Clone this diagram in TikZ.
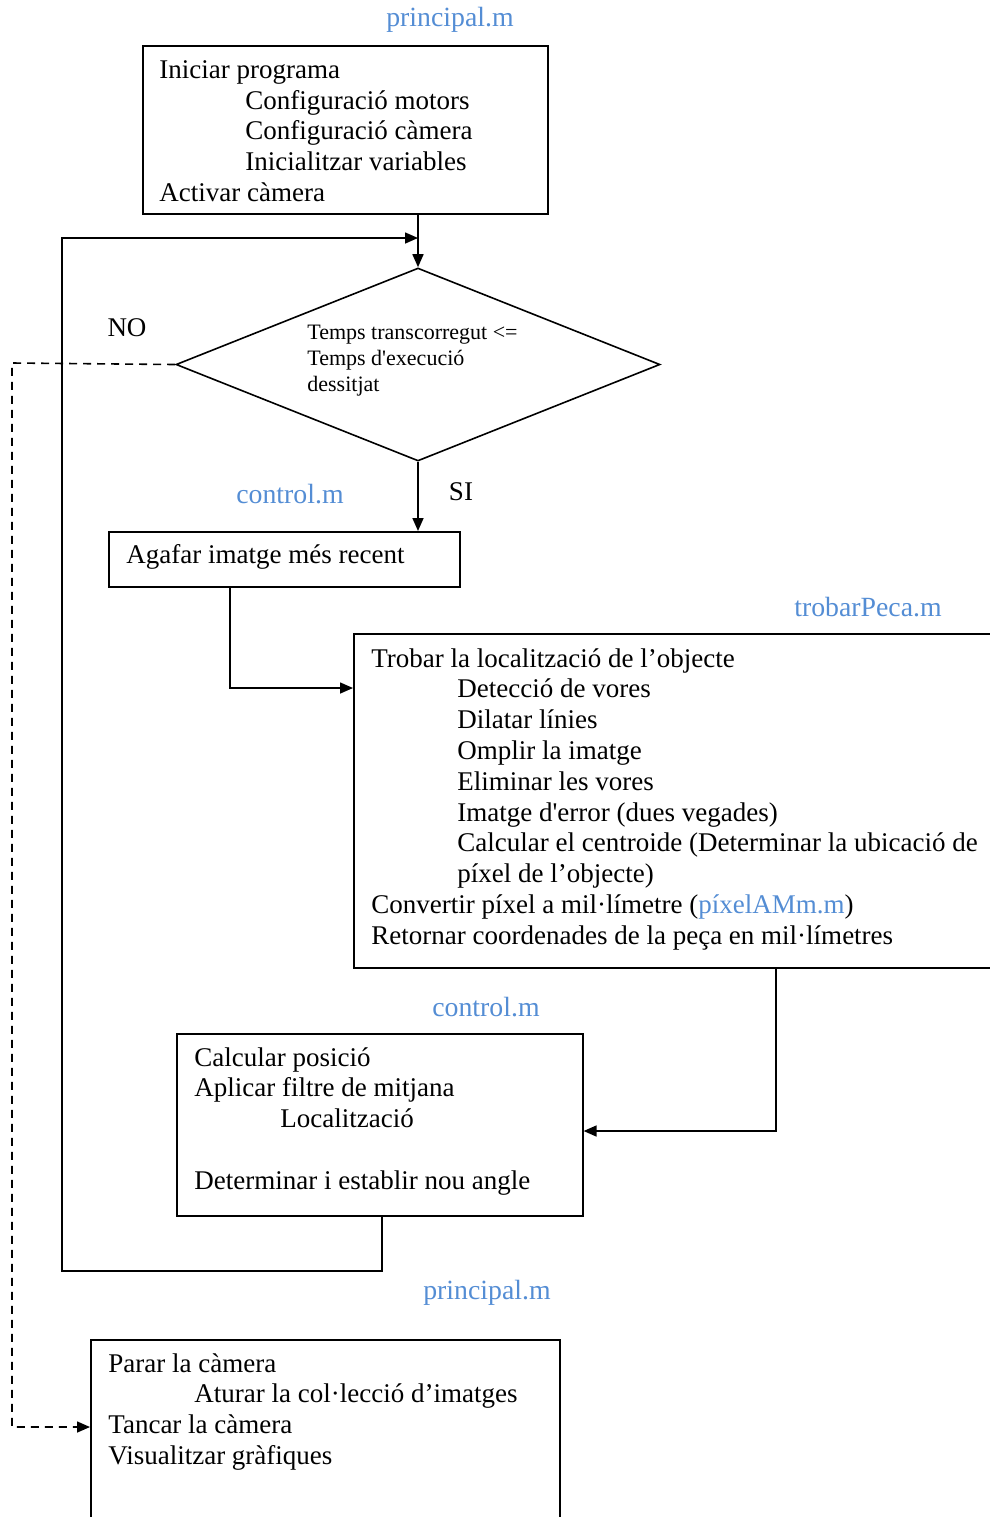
\documentclass[tikz,border=0pt]{standalone}
\usepackage{fontspec}
\setmainfont{Liberation Serif}
\usetikzlibrary{shapes.geometric,arrows.meta}
\definecolor{fileblue}{RGB}{84,141,212}
\tikzset{
  blk/.style={draw,line width=0.8pt,anchor=north west,inner sep=0pt},
  txt/.style={anchor=north west,inner sep=0pt,align=left,font=\fontsize{13.5}{15.4}\selectfont},
  fname/.style={text=fileblue,inner sep=0pt,font=\fontsize{13.9}{15}\selectfont},
  flow/.style={line width=0.8pt,-{Triangle[length=6.5pt,width=5.5pt]}},
}
\newcommand{\ind}{\hspace*{43pt}}
\begin{document}
\begin{tikzpicture}[x=0.5pt,y=-0.5pt]%
% coordinates are pixels of the 990x1517 page, y downwards
\useasboundingbox (0,0) rectangle (990,1517);
\clip (0,0) rectangle (990,1517);
\node[fname] (lbprin) at (450,20) {principal.m};
\node[blk,minimum width=202.5pt,minimum height=84pt] (start) at (142,45) {};
\node[txt] (starttx) at (159,60) {Iniciar programa\\
  \ind Configuració motors\\
  \ind Configuració càmera\\
  \ind Inicialitzar variables\\
  Activar càmera};
\node[draw,diamond,line width=0.8pt,inner sep=0pt,minimum width=242pt,minimum height=96.5pt] (cond) at (418,364.5) {};
\node[anchor=north west,inner sep=0pt,align=left,font=\fontsize{11}{13}\selectfont] (condtx) at (307,325) {Temps transcorregut <=\\
  Temps d\textquotesingle execució\\
  dessitjat};
\node[inner sep=0pt,font=\fontsize{13.5}{15}\selectfont] (no) at (127,328) {NO};
\node[inner sep=0pt,font=\fontsize{13.5}{15}\selectfont] (si) at (461,492) {SI};
\node[fname] (lbctrla) at (290,494) {control.m};
\node[blk,minimum width=175.5pt,minimum height=27.5pt] (grab) at (108,531) {};
\node[txt] (grabtx) at (126,544) {Agafar imatge més recent};
\node[fname] (lbtrob) at (868,607) {trobarPeca.m};
\node[blk,minimum width=330pt,minimum height=167pt] (trobar) at (353,633) {};
\node[txt] (trobartx) at (371,648) {Trobar la localització de l’objecte\\
  \ind Detecció de vores\\
  \ind Dilatar línies\\
  \ind Omplir la imatge\\
  \ind Eliminar les vores\\
  \ind Imatge d\textquotesingle error (dues vegades)\\
  \ind Calcular el centroide (Determinar la ubicació de\\
  \ind píxel de l’objecte)\\
  Convertir píxel a mil·límetre (\textcolor{fileblue}{píxelAMm.m})\\
  Retornar coordenades de la peça en mil·límetres};
\node[fname] (lbctrlb) at (486,1007) {control.m};
\node[blk,minimum width=203pt,minimum height=91pt] (ctrl) at (176,1033) {};
\node[txt] (ctrltx) at (194,1047) {Calcular posició\\
  Aplicar filtre de mitjana\\
  \ind Localització\\[15.4pt]
  Determinar i establir nou angle};
\node[fname] (lbprinb) at (487,1293) {principal.m};
\node[blk,minimum width=234.5pt,minimum height=100pt] (parar) at (90,1339) {};
\node[txt] (parartx) at (108,1353) {Parar la càmera\\
  \ind Aturar la col·lecció d’imatges\\
  Tancar la càmera\\
  Visualitzar gràfiques};
% connectors
\coordinate (loopl) at (62,1271);
\coordinate (loopt) at (62,238);
\coordinate (g2t) at (230,688);
\coordinate (t2c) at (776,1131);
\coordinate (dsht) at (12,363);
\coordinate (dshb) at (12,1427);
\draw[flow] (start.south -| cond.north) -- (cond.north);
\draw[flow] (cond.south) -- (cond.south |- grab.north);
\draw[flow] (grab.south -| g2t) -- (g2t) -- (g2t -| trobar.west);
\draw[flow] (trobar.south -| t2c) -- (t2c) -- (t2c -| ctrl.east);
\draw[flow] (ctrl.south -| 382,0) |- (loopl) -- (loopt) -- (loopt -| cond.north);
\draw[flow,dash pattern=on 4pt off 3pt] (cond.west) -- (dsht) -- (dshb) -- (dshb -| parar.west);
\end{tikzpicture}
\end{document}
